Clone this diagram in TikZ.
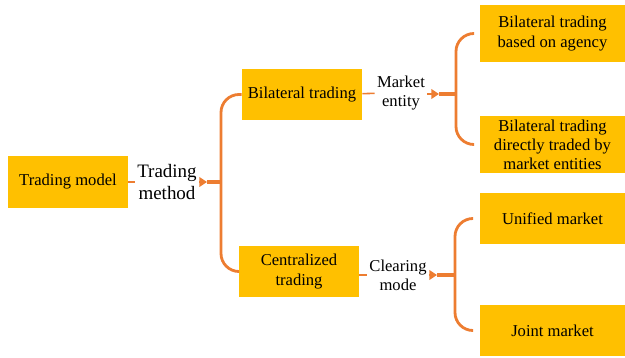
\documentclass[tikz,border=0pt]{standalone}
\usepackage{fontspec}
\setmainfont{Liberation Serif}
\usetikzlibrary{arrows.meta,positioning}
\definecolor{boxgold}{RGB}{255,192,0}
\definecolor{lineorange}{RGB}{237,125,49}

\begin{document}
\begin{tikzpicture}[x=0.025cm,y=-0.025cm,font=\fontsize{11.8}{13.6}\selectfont,
  box/.style={fill=boxgold,minimum width=3cm,minimum height=1.275cm,align=center,inner sep=1pt},
  leaf/.style={box,minimum width=3.625cm},
  tag/.style={align=center,inner sep=1.5pt},
  link/.style={draw=lineorange,line width=1.1pt},
  tip/.style={link,-{Triangle[length=5.5pt,width=7pt]}},
  feed/.style={draw=lineorange,line width=2.8pt},
  brace/.style={draw=lineorange,line width=2pt,rounded corners=0.45cm}]
  \useasboundingbox (0,0) rectangle (625,357);
  % root
  \node[box] (model) at (68,182) {Trading model};
  \node[tag,font=\fontsize{13.5}{16}\selectfont] (method) at (167,182) {Trading\\method};
  \coordinate (t1) at (207,182);
  \coordinate (j1) at (221,182);
  % second level
  \node[box] (bil) at (302,94.5) {Bilateral trading};
  \node[box] (cen) at (299,271.5) {Centralized\\trading};
  \node[tag] (entity) at (401,93) {Market\\entity};
  \node[tag] (clearing) at (398,275) {Clearing\\mode};
  \coordinate (t2) at (439,94);
  \coordinate (j2) at (456,94);
  \coordinate (t3) at (437,275);
  \coordinate (j3) at (455,275);
  % leaves
  \node[leaf,minimum height=1.425cm] (agency) at (552.5,33.5) {Bilateral trading\\based on agency};
  \node[leaf,minimum height=1.425cm] (direct) at (552.5,144.5) {Bilateral trading\\directly traded by\\market entities};
  \node[leaf] (unified) at (552.5,218.5) {Unified market};
  \node[leaf] (joint) at (552.5,330.5) {Joint market};
  % connectors
  \draw[link] (model) -- (method);
  \draw[tip] (method) -- (t1);
  \draw[feed] (t1) -- (j1);
  \draw[brace] (bil.west) -| (j1) |- (cen.west);
  \draw[link] (bil) -- (entity);
  \draw[tip] (entity.east |- t2) -- (t2);
  \draw[feed] (t2) -- (j2);
  \draw[brace,shorten <=5pt,shorten >=5pt] (agency.west) -| (j2) |- (direct.west);
  \draw[link] (cen.east |- clearing) -- (clearing);
  \draw[tip] (clearing.east) -- (t3);
  \draw[feed] (t3) -- (j3);
  \draw[brace,shorten <=5pt,shorten >=5pt] (unified.west) -| (j3) |- (joint.west);
\end{tikzpicture}
\end{document}
